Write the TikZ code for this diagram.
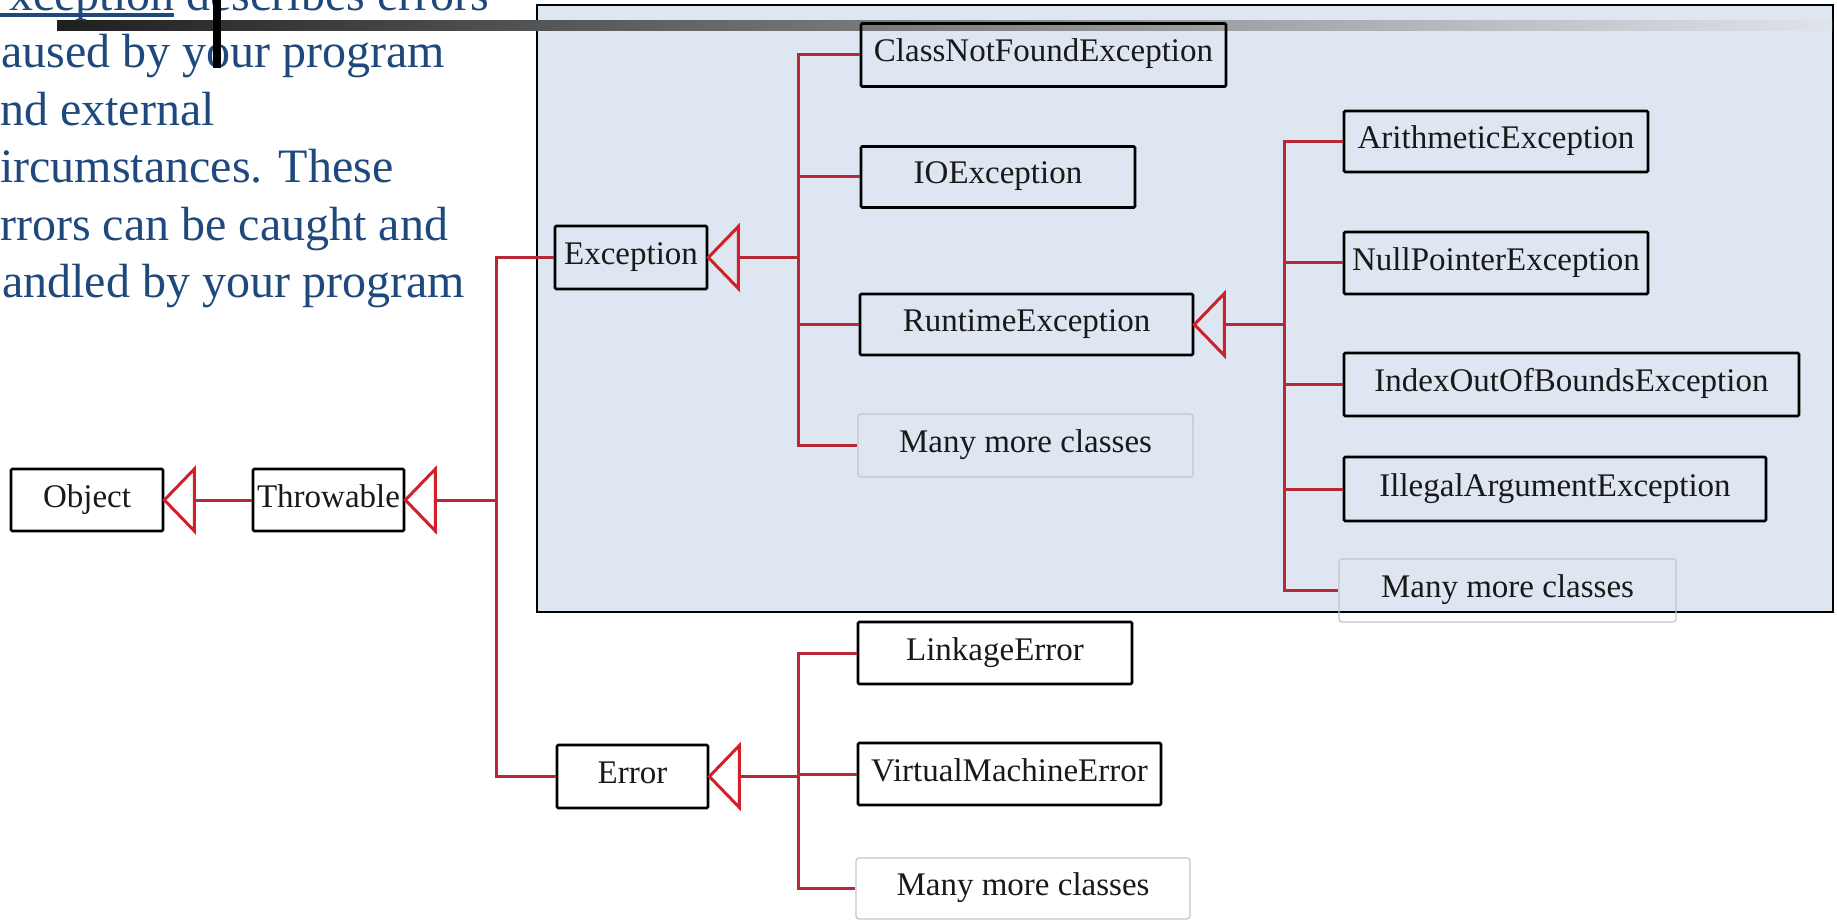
\documentclass[tikz,border=0pt]{standalone}
\usepackage{fontspec}
\setmainfont{Liberation Serif}
\usetikzlibrary{calc}
\definecolor{slideblue}{RGB}{31,73,125}
\definecolor{panel}{RGB}{221,230,241}
\definecolor{trired}{RGB}{208,32,42}
\definecolor{linkred}{RGB}{184,40,54}
\definecolor{faint}{RGB}{196,198,202}
\definecolor{barend}{RGB}{224,228,234}
\newcommand\boxfont{\fontsize{33}{40}\selectfont}
\newcommand\slidefont{\fontsize{48}{57.5}\selectfont}
\begin{document}
\begin{tikzpicture}[x=1pt,y=-1pt,
  cls/.style={draw=black, line width=2.7pt, rounded corners=1.2pt, inner sep=0pt,
              text height=22pt, text depth=8pt, font=\boxfont, text=black!90},
  more/.style={cls, draw=faint, line width=1.3pt, rounded corners=3pt},
  gen/.style={draw=trired, line width=3pt, line join=miter},
  link/.style={draw=linkred, line width=3pt},
  slide/.style={anchor=base west, inner sep=0pt, text=slideblue, font=\slidefont}
]
\useasboundingbox (0,0) rectangle (1837,920);

% shaded panel holding the Exception subtree
\draw[fill=panel, line width=2.6pt] (537,5) rectangle (1833,612);

% title bar of the slide
\shade[left color=black!88, right color=barend] (57,21) rectangle (1832,31);

% slide text
\node[slide] (t1) at (9,10.5) {xception describes errors};
\node[slide] (t2) at (1,68) {aused by your program};
\node[slide] (t3) at (0,125.5) {nd external};
\node[slide] (t4) at (0,183) {ircumstances. These};
\node[slide] (t5) at (0,240.5) {rrors can be caught and};
\node[slide] (t6) at (2,298) {andled by your program};
\fill[slideblue] (0,13.5) rectangle (174,17.5);
\fill[black] (213,0) rectangle (221,68);

% classes
\node[cls, minimum width=152pt, minimum height=62pt] (object)    at (87,500)    {Object};
\node[cls, minimum width=151pt, minimum height=62pt] (throwable) at (328.5,500) {Throwable};
\node[cls, minimum width=152pt, minimum height=63pt] (exception) at (631,257.5) {Exception};
\node[cls, minimum width=151pt, minimum height=63pt] (error)     at (632.5,776.5) {Error};

\node[cls, minimum width=365pt, minimum height=63pt] (cnf)     at (1043.5,55)  {ClassNotFoundException};
\node[cls, minimum width=274pt, minimum height=61pt] (io)      at (998,177)    {IOException};
\node[cls, minimum width=333pt, minimum height=61pt] (runtime) at (1026.5,324.5) {RuntimeException};
\node[more, minimum width=335pt, minimum height=63pt] (more1)  at (1025.5,445.5) {Many more classes};

\node[cls, minimum width=304pt, minimum height=61pt] (arith)   at (1496,141.5) {ArithmeticException};
\node[cls, minimum width=304pt, minimum height=62pt] (null)    at (1496,263)   {NullPointerException};
\node[cls, minimum width=455pt, minimum height=63pt] (index)   at (1571.5,384.5) {IndexOutOfBoundsException};
\node[cls, minimum width=422pt, minimum height=64pt] (illegal) at (1555,489)   {IllegalArgumentException};
\node[more, minimum width=337pt, minimum height=63pt] (more2)  at (1507.5,590.5) {Many more classes};

\node[cls, minimum width=274pt, minimum height=62pt] (linkage) at (995,653)    {LinkageError};
\node[cls, minimum width=303pt, minimum height=62pt] (vm)      at (1009.5,774) {VirtualMachineError};
\node[more, minimum width=334pt, minimum height=61pt] (more3)  at (1023,888.5) {Many more classes};

% generalization triangles
\foreach \p in {object,throwable,exception,runtime,error}{
  \draw[gen] (\p.east) -- ++(30,-31) -- ++(0,62) -- cycle;
  \coordinate (\p-base) at ($(\p.east)+(30,0)$);
}

% vertical buses
\coordinate (b1) at (496,0);
\coordinate (b2) at (798,0);
\coordinate (b3) at (1284,0);
\coordinate (b4) at (798,0);

% Throwable <- Object
\draw[link] (object-base) -- (throwable.west);

% Throwable's subclasses
\draw[link] (throwable-base) -- (throwable-base -| b1);
\draw[link] (exception.west) -- (exception.west -| b1) -- (error.west -| b1) -- (error.west);

% Exception's subclasses
\draw[link] (exception-base) -- (exception-base -| b2);
\draw[link] (cnf.west) -- (cnf.west -| b2) -- (more1.west -| b2) -- (more1.west);
\draw[link] (io.west -| b2) -- (io.west);
\draw[link] (runtime.west -| b2) -- (runtime.west);

% RuntimeException's subclasses
\draw[link] (runtime-base) -- (runtime-base -| b3);
\draw[link] (arith.west) -- (arith.west -| b3) -- (more2.west -| b3) -- (more2.west);
\draw[link] (null.west -| b3) -- (null.west);
\draw[link] (index.west -| b3) -- (index.west);
\draw[link] (illegal.west -| b3) -- (illegal.west);

% Error's subclasses
\draw[link] (error-base) -- (error-base -| b4);
\draw[link] (linkage.west) -- (linkage.west -| b4) -- (more3.west -| b4) -- (more3.west);
\draw[link] (vm.west -| b4) -- (vm.west);
\end{tikzpicture}
\end{document}
